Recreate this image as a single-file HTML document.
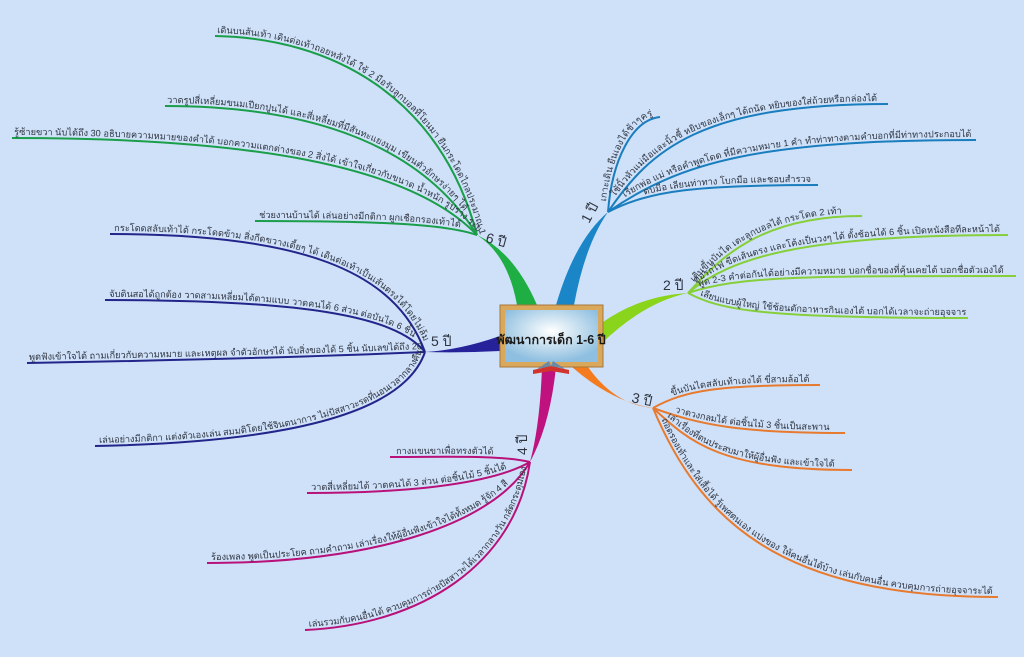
<!DOCTYPE html>
<html><head><meta charset="utf-8">
<style>
html,body{margin:0;padding:0;background:#cfe1f9;}
svg{display:block}
text{font-family:"Liberation Sans","Noto Sans CJK SC",sans-serif;}
.t{font-size:9.2px;fill:#2e3440;}
.lb{font-size:14px;fill:#2e3440;}
</style></head><body>
<svg width="1024" height="657" viewBox="0 0 1024 657" xmlns="http://www.w3.org/2000/svg">
<defs>
<radialGradient id="bg" cx="50%" cy="40%" r="60%"><stop offset="0" stop-color="#ffffff"/><stop offset="1" stop-color="#8fbfe0"/></radialGradient>
<path id="a1" d="M215,36 C330,38 440,95 477,235"/>
<path id="a2" d="M165,106 C320,106 425,150 477,235"/>
<path id="a3" d="M12,138 C250,138 410,165 477,235"/>
<path id="a4" d="M255,221 C380,221 445,224 477,235"/>
<path id="b1" d="M110,234 C300,234 395,270 425,352"/>
<path id="b2" d="M105,300 C300,300 395,315 425,352"/>
<path id="b3" d="M27,363 C200,360 330,356 425,352"/>
<path id="b4" d="M95,446 C300,442 405,410 425,352"/>
<path id="c1" d="M390,457 C450,457 500,455 530,462"/>
<path id="c2" d="M307,493 C420,493 495,482 530,462"/>
<path id="c3" d="M207,563 C380,563 495,522 530,462"/>
<path id="c4" d="M305,630 C420,625 515,565 530,462"/>
<path id="d1" d="M653,408 C685,390 720,385 820,385"/>
<path id="d2" d="M653,408 C700,425 740,433 845,433"/>
<path id="d3" d="M653,408 C690,442 720,470 852,470"/>
<path id="d4" d="M653,408 C700,520 780,597 998,597"/>
<path id="e1" d="M608,212 C612,160 632,120 660,117"/>
<path id="e2" d="M608,212 C650,150 700,104 888,104"/>
<path id="e3" d="M608,212 C680,162 760,140 976,140"/>
<path id="e4" d="M608,212 C650,190 700,185 818,185"/>
<path id="f1" d="M688,293 C720,258 760,216 862,216"/>
<path id="f2" d="M688,293 C730,258 800,235 1008,235"/>
<path id="f3" d="M688,293 C740,276 800,276 1016,276"/>
<path id="f4" d="M688,293 C720,310 760,318 968,318"/>
</defs>
<rect width="1024" height="657" fill="#cfe1f9"/>

<g fill="none" stroke-width="2">
<g stroke="#1a9e4a"><use href="#a1"/><use href="#a2"/><use href="#a3"/><use href="#a4"/></g>
<g stroke="#23258a"><use href="#b1"/><use href="#b2"/><use href="#b3"/><use href="#b4"/></g>
<g stroke="#b8127a"><use href="#c1"/><use href="#c2"/><use href="#c3"/><use href="#c4"/></g>
<g stroke="#e77a2e"><use href="#d1"/><use href="#d2"/><use href="#d3"/><use href="#d4"/></g>
<g stroke="#1a7dbd"><use href="#e1"/><use href="#e2"/><use href="#e3"/><use href="#e4"/></g>
<g stroke="#86cf3a"><use href="#f1"/><use href="#f2"/><use href="#f3"/><use href="#f4"/></g>
</g>

<g>
<path d="M517,305 Q508,255 477,235 Q514,252 537,305Z" fill="#1fae43"/>
<path d="M556,305 Q575,240 608,212 Q585,245 574,305Z" fill="#1a86c8"/>
<path d="M603,322 Q640,296 688,293 Q645,302 603,342Z" fill="#8ad41c"/>
<path d="M588,367 Q615,405 653,408 Q612,402 572,367Z" fill="#f47b1e"/>
<path d="M542,367 Q540,425 530,462 Q550,425 556,367Z" fill="#c0127f"/>
<path d="M500,336 Q460,350 425,352 Q462,353 500,351Z" fill="#25229a"/>
</g>

<rect x="500" y="305" width="103" height="62" fill="#d9a85a" stroke="#a8783a" stroke-width="1"/>
<rect x="505" y="310" width="93" height="52" fill="url(#bg)"/>
<text x="551" y="344" text-anchor="middle" style="font-size:12.5px;font-weight:bold;fill:#1a1a1a">พัฒนาการเด็ก 1-6 ปี</text>
<path d="M533,370 L551,366 L569,370 L569,374 L551,371 L533,374Z" fill="#d0342c"/>
<path d="M537,369 L549,361 L551,366Z M565,369 L553,361 L551,366Z" fill="#6a8aa8"/>

<text class="lb" transform="translate(485,242) rotate(15)">6 ปี</text>
<text class="lb" transform="translate(589,224) rotate(-62)">1 ปี</text>
<text class="lb" x="663" y="290">2 ปี</text>
<text class="lb" transform="translate(631,402) rotate(12)">3 ปี</text>
<text class="lb" transform="translate(527,455) rotate(-90)">4 ปี</text>
<text class="lb" x="431" y="346">5 ปี</text>

<g class="t">
<text dy="-3"><textPath href="#a1" startOffset="2">เดินบนส้นเท้า เดินต่อเท้าถอยหลังได้ ใช้ 2 มือรับลูกบอลที่โยนมา ยืนกระโดดไกลประมาณ 120 ซม.</textPath></text>
<text dy="-3"><textPath href="#a2" startOffset="2">วาดรูปสี่เหลี่ยมขนมเปียกปูนได้ และสี่เหลี่ยมที่มีสันทะแยงมุม เขียนตัวอักษรง่ายๆ ได้</textPath></text>
<text dy="-3"><textPath href="#a3" startOffset="2">รู้ซ้ายขวา นับได้ถึง 30 อธิบายความหมายของคำได้ บอกความแตกต่างของ 2 สิ่งได้ เข้าใจเกี่ยวกับขนาด น้ำหนัก รูปร่าง ระยะ</textPath></text>
<text dy="-3"><textPath href="#a4" startOffset="4">ช่วยงานบ้านได้ เล่นอย่างมีกติกา ผูกเชือกรองเท้าได้</textPath></text>

<text dy="-3"><textPath href="#b1" startOffset="4">กระโดดสลับเท้าได้ กระโดดข้าม สิ่งกีดขวางเตี้ยๆ ได้ เดินต่อเท้าเป็นเส้นตรงได้โดยไม่ล้ม</textPath></text>
<text dy="-3"><textPath href="#b2" startOffset="4">จับดินสอได้ถูกต้อง วาดสามเหลี่ยมได้ตามแบบ วาดคนได้ 6 ส่วน ต่อบันได 6 ชิ้น</textPath></text>
<text dy="-3"><textPath href="#b3" startOffset="2">พูดฟังเข้าใจได้ ถามเกี่ยวกับความหมาย และเหตุผล จำตัวอักษรได้ นับสิ่งของได้ 5 ชิ้น นับเลขได้ถึง 20</textPath></text>
<text dy="-3"><textPath href="#b4" startOffset="4">เล่นอย่างมีกติกา แต่งตัวเองเล่น สมมติโดยใช้จินตนาการ ไม่ปัสสาวะรดที่นอนเวลากลางคืน</textPath></text>

<text dy="-3"><textPath href="#c1" startOffset="6">กางแขนขาเพื่อทรงตัวได้</textPath></text>
<text dy="-3"><textPath href="#c2" startOffset="4">วาดสี่เหลี่ยมได้ วาดคนได้ 3 ส่วน ต่อชิ้นไม้ 5 ชิ้นได้</textPath></text>
<text dy="-3"><textPath href="#c3" startOffset="4">ร้องเพลง พูดเป็นประโยค ถามคำถาม เล่าเรื่องให้ผู้อื่นฟังเข้าใจได้ทั้งหมด รู้จัก 4 สี</textPath></text>
<text dy="-3"><textPath href="#c4" startOffset="4">เล่นรวมกับคนอื่นได้ ควบคุมการถ่ายปัสสาวะได้เวลากลางวัน กลัดกระดุมเอง</textPath></text>

<text dy="-3"><textPath href="#d1" startOffset="22">ขึ้นบันไดสลับเท้าเองได้ ขี่สามล้อได้</textPath></text>
<text dy="-3"><textPath href="#d2" startOffset="22">วาดวงกลมได้ ต่อชิ้นไม้ 3 ชิ้นเป็นสะพาน</textPath></text>
<text dy="-3"><textPath href="#d3" startOffset="16">เล่าเรื่องที่ตนประสบมาให้ผู้อื่นฟัง และเข้าใจได้</textPath></text>
<text dy="-3"><textPath href="#d4" startOffset="14">ถอดรองเท้าและใส่เสื้อได้ รู้เพศตนเอง แบ่งของ ให้คนอื่นได้บ้าง เล่นกับคนอื่น ควบคุมการถ่ายอุจจาระได้</textPath></text>

<text dy="-3"><textPath href="#e1" startOffset="10">เกาะเดิน ยืนเองได้ช้าๆครู่</textPath></text>
<text dy="-3"><textPath href="#e2" startOffset="16">ใช้นิ้วหัวแม่มือและนิ้วชี้ หยิบของเล็กๆ ได้ถนัด หยิบของใส่ถ้วยหรือกล่องได้</textPath></text>
<text dy="-3"><textPath href="#e3" startOffset="22">เรียกพ่อ แม่ หรือคำพูดโดด ที่มีความหมาย 1 คำ ทำท่าทางตามคำบอกที่มีท่าทางประกอบได้</textPath></text>
<text dy="-3"><textPath href="#e4" startOffset="40">ตบมือ เลียนท่าทาง โบกมือ และชอบสำรวจ</textPath></text>

<text dy="-3"><textPath href="#f1" startOffset="12">เดินขึ้นบันได เตะลูกบอลได้ กระโดด 2 เท้า</textPath></text>
<text dy="-3"><textPath href="#f2" startOffset="12">ต่อรถไฟ ขีดเส้นตรง และโค้งเป็นวงๆ ได้ ตั้งช้อนได้ 6 ชิ้น เปิดหนังสือทีละหน้าได้</textPath></text>
<text dy="-3"><textPath href="#f3" startOffset="12">พูด 2-3 คำต่อกันได้อย่างมีความหมาย บอกชื่อของที่คุ้นเคยได้ บอกชื่อตัวเองได้</textPath></text>
<text dy="-3"><textPath href="#f4" startOffset="12">เลียนแบบผู้ใหญ่ ใช้ช้อนตักอาหารกินเองได้ บอกได้เวลาจะถ่ายอุจจาระ</textPath></text>
</g>
</svg>
</body></html>
